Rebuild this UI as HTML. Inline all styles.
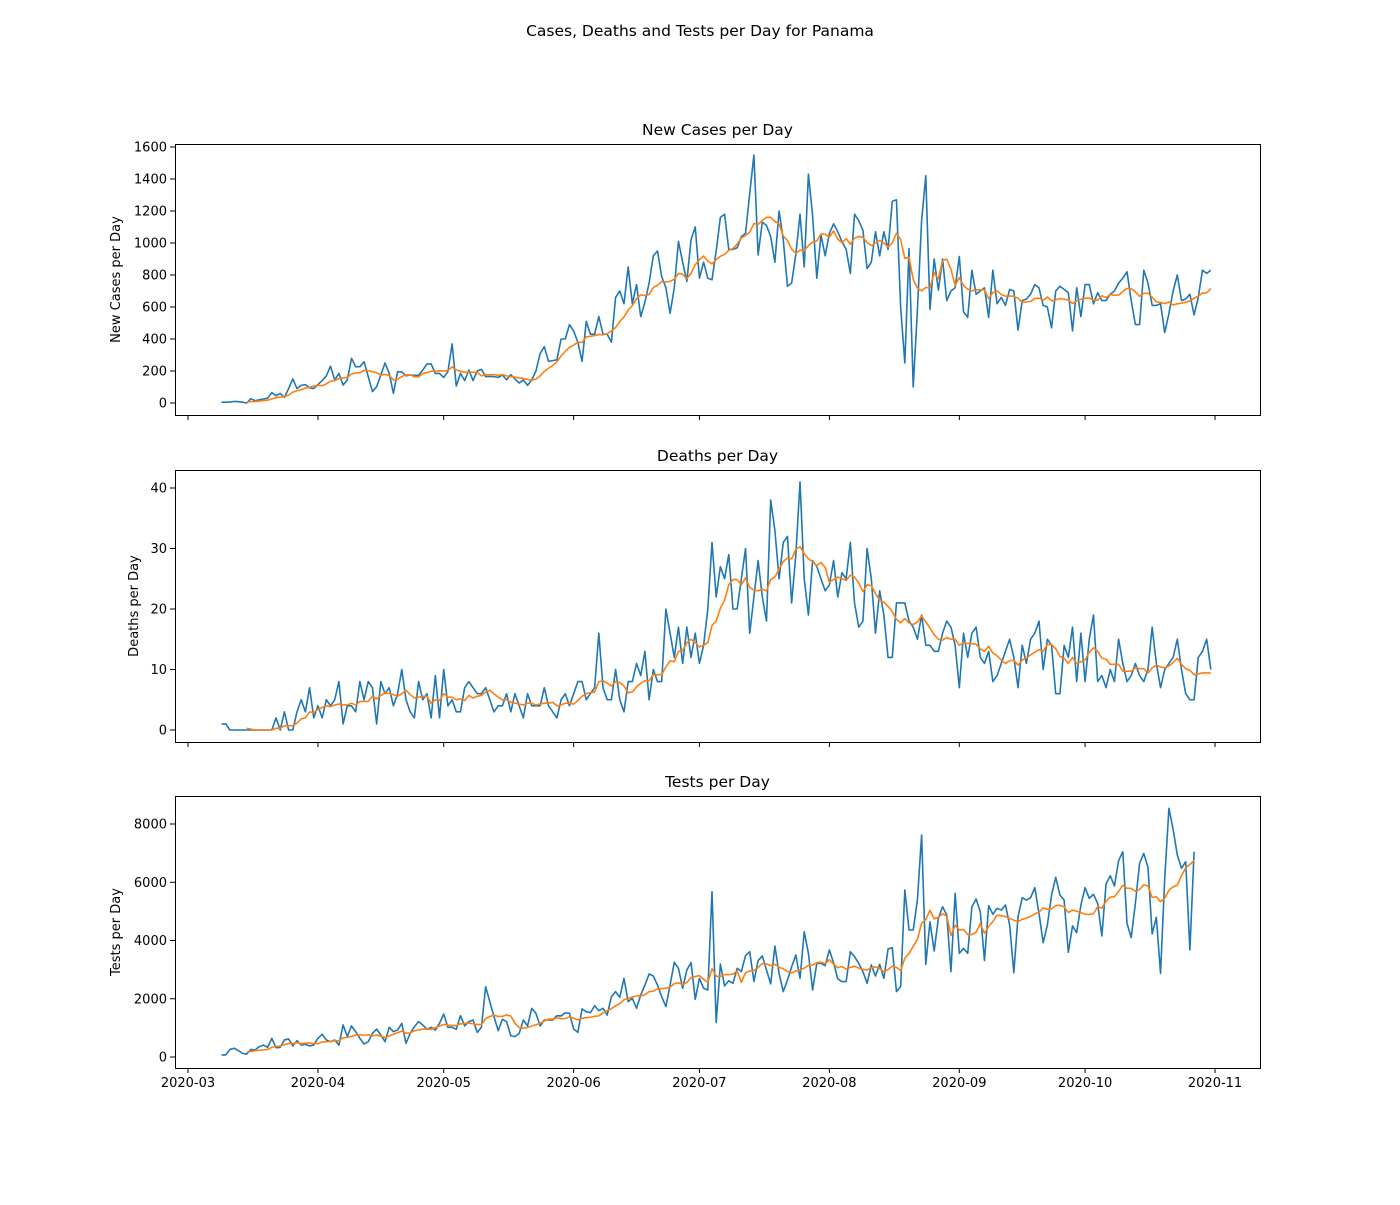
<!DOCTYPE html>
<html><head><meta charset="utf-8"><style>
html,body{margin:0;padding:0;background:#fff;}
svg text{font-family:"DejaVu Sans","Liberation Sans",sans-serif;fill:#000;}
</style></head><body>
<svg id="fig" width="1400" height="1200" viewBox="0 0 1400 1200" xmlns="http://www.w3.org/2000/svg">
<rect width="1400" height="1200" fill="#fff"/>
<text x="700" y="36" font-size="15.5" text-anchor="middle">Cases, Deaths and Tests per Day for Panama</text>
</svg>
<script>
const startDay = 8; // days since 2020-03-01 (2020-03-09)
const monthLabels = ["2020-03","2020-04","2020-05","2020-06","2020-07","2020-08","2020-09","2020-10","2020-11"];
const monthDays = [0,31,61,92,122,153,184,214,245];
const casesValues = [5,5,5,10,8,5,0,27,15,20,25,30,65,45,60,35,90,150,90,110,115,95,90,115,140,170,
230,144,185,112,144,279,227,227,258,165,71,102,175,250,185,60,196,194,170,175,173,173,206,244,244,185,185,160,196,369,106,185,140,206,140,200,210,165,165,165,160,175,145,177,150,125,144,110,144,200,310,352,260,265,270,
400,400,490,450,380,260,510,430,430,540,430,430,380,660,700,620,850,620,740,540,630,750,920,950,790,720,560,720,1010,880,760,1020,1100,780,880,780,770,950,1160,1180,960,960,970,1040,1060,1310,1550,925,1130,1110,1040,880,1200,1020,730,750,930,1180,850,1430,1170,780,1050,920,1060,1120,1070,1010,960,810,1180,1140,1080,840,880,1070,920,1070,960,1260,1270,
600,250,965,100,580,1140,1420,585,900,705,900,640,700,720,915,570,535,830,680,700,720,535,830,620,660,610,710,700,455,640,650,680,740,720,610,600,470,700,730,710,690,450,720,540,740,740,620,690,640,640,680,700,750,780,820,640,490,490,830,750,610,610,620,440,560,700,800,640,650,680,550,660,830,810,830];
const deathsValues = [1,1,0,0,0,0,0,0,0,0,0,0,0,
2,0,3,0,0,3,5,3,7,2,4,2,5,4,5,8,1,4,4,3,8,5,8,7,1,8,6,7,4,6,10,5,3,2,8,5,6,2,9,2,10,4,5,3,3,7,8,7,6,6,7,5,3,4,4,6,3,6,4,2,6,4,4,4,7,4,3,2,5,
6,4,6,8,8,5,6,7,16,7,5,5,10,5,3,8,8,11,9,13,5,10,8,8,20,16,12,17,11,17,12,16,11,14,20,31,22,27,25,29,20,20,25,30,16,22,28,22,18,38,33,25,31,32,21,29,41,25,19,28,27,25,23,24,28,22,26,25,31,21,17,18,30,25,16,23,19,12,12,21,21,
21,18,17,15,19,14,14,13,13,16,18,17,14,7,16,12,16,17,12,11,13,8,9,11,13,15,12,7,14,11,15,16,18,10,15,14,6,6,14,12,17,8,16,8,15,19,8,9,7,10,8,15,11,8,9,11,9,8,10,17,11,7,10,11,12,15,10,6,5,5,12,13,15,10];
const testsValues = [70,70,260,300,220,125,100,260,240,355,410,330,640,320,330,585,620,380,560,410,435,380,410,640,780,585,525,585,410,1100,700,1065,870,640,445,525,810,960,755,525,1020,870,925,1155,470,810,1040,1215,1100,950,1020,925,1155,1475,1020,1020,950,1420,1065,1215,1270,845,1020,2415,1900,1385,905,1295,1215,730,700,810,1270,1065,1670,1500,1065,1270,1270,1270,1420,
1410,1520,1500,960,845,1650,1555,1520,1760,1590,1670,1440,2070,2245,2050,2700,1900,2015,1670,2130,2470,2850,2780,2470,2070,1730,2470,3250,3045,2360,2990,3240,1980,2700,2360,2300,5675,1180,3190,2440,2620,2530,3045,2930,3480,3615,2590,3310,3470,2990,2510,3810,2870,2245,2645,3100,3500,2700,4300,3560,2300,3215,3215,3135,3675,3240,2680,2590,2590,3615,3445,3215,2930,2530,3160,2780,3180,2700,3710,3755,2245,2415,
5735,4360,4360,5390,7620,3180,4645,3640,4760,5160,4875,2930,5620,3560,3730,3560,5160,5425,4990,3310,5195,4900,5105,5045,5220,4530,2895,4820,5470,5390,5470,5815,4930,3925,4530,5560,6170,5560,5390,3595,4500,4270,5220,5815,5450,5585,5275,4155,5940,6225,5870,6740,7050,4590,4100,5275,6650,6990,6510,4225,4795,2870,6135,8540,7815,6935,6480,6705,3675,7050];
const casesTicks = [0,200,400,600,800,1000,1200,1400,1600];
const deathsTicks = [0,10,20,30,40];
const testsTicks = [0,2000,4000,6000,8000];

const NS = "http://www.w3.org/2000/svg";
const svg = document.getElementById('fig');
const L = 175, R = 1260;
function xScale(d){ return 188 + d * 4.192; }
function mk(tag, attrs, parent){ const e = document.createElementNS(NS, tag); for (const k in attrs) e.setAttribute(k, attrs[k]); (parent||svg).appendChild(e); return e; }
function rolling(v){ const out=[]; for(let i=6;i<v.length;i++){ let s=0; for(let j=i-6;j<=i;j++) s+=v[j]; out.push([i, s/7]); } return out; }

function panel(name, title, ylabel, top, bottom, vmax, y0px, ymaxpx, ticks, values, showX, ylabX){
  const g = mk('g', {});
  
  
  const yScale = v => y0px - (v / vmax) * (y0px - ymaxpx);
  const t = mk('text', {x: (L+R)/2, y: top - 9, 'font-size': 15.5, 'text-anchor': 'middle'}, g);
  t.textContent = title;
  
  
  ticks.forEach(v => {
    const y = yScale(v);
    const tk = mk('line', {x1: L-5, x2: L, y1: y, y2: y, stroke: '#000', 'stroke-width': 1}, g);
    
    
    const lb = mk('text', {x: L-8, y: y+4.5, 'font-size': 13, 'text-anchor': 'end'}, g);
    lb.textContent = v;
    
    
  });
  monthDays.forEach((d, i) => {
    const x = xScale(d);
    const tk = mk('line', {x1: x, x2: x, y1: bottom, y2: bottom+5, stroke: '#000', 'stroke-width': 1}, g);
    
    
    if (showX) {
      const lb = mk('text', {x: x, y: bottom+19, 'font-size': 13, 'text-anchor': 'middle'}, g);
      lb.textContent = monthLabels[i];
      
      
    }
  });
  const yl = mk('text', {x: ylabX, y: (top+bottom)/2, 'font-size': 13, 'text-anchor': 'middle', transform: `rotate(-90 ${ylabX} ${(top+bottom)/2})`}, g);
  yl.textContent = ylabel;
  
  
  const raw = values.map((v,i) => `${xScale(startDay+i).toFixed(2)},${yScale(v).toFixed(2)}`).join(' ');
  const p1 = mk('polyline', {points: raw, fill: 'none', stroke: '#1f77b4', 'stroke-width': 1.6, 'stroke-linejoin': 'round'}, g);
  
  
  const avg = rolling(values).map(([i,v]) => `${xScale(startDay+i).toFixed(2)},${yScale(v).toFixed(2)}`).join(' ');
  const p2 = mk('polyline', {points: avg, fill: 'none', stroke: '#ff7f0e', 'stroke-width': 1.6, 'stroke-linejoin': 'round'}, g);
  
  
  const box = mk('rect', {x: L+0.5, y: top+0.5, width: R-L, height: bottom-top, fill: 'none', stroke: '#000', 'stroke-width': 1}, g);
  
  
}
panel('cases', 'New Cases per Day', 'New Cases per Day', 144, 415, 1600, 403, 147, casesTicks, casesValues, false, 120);
panel('deaths', 'Deaths per Day', 'Deaths per Day', 470, 742, 40, 730, 488, deathsTicks, deathsValues, false, 138);
panel('tests', 'Tests per Day', 'Tests per Day', 796, 1068, 8000, 1057, 824, testsTicks, testsValues, true, 120);
</script>
</body></html>
